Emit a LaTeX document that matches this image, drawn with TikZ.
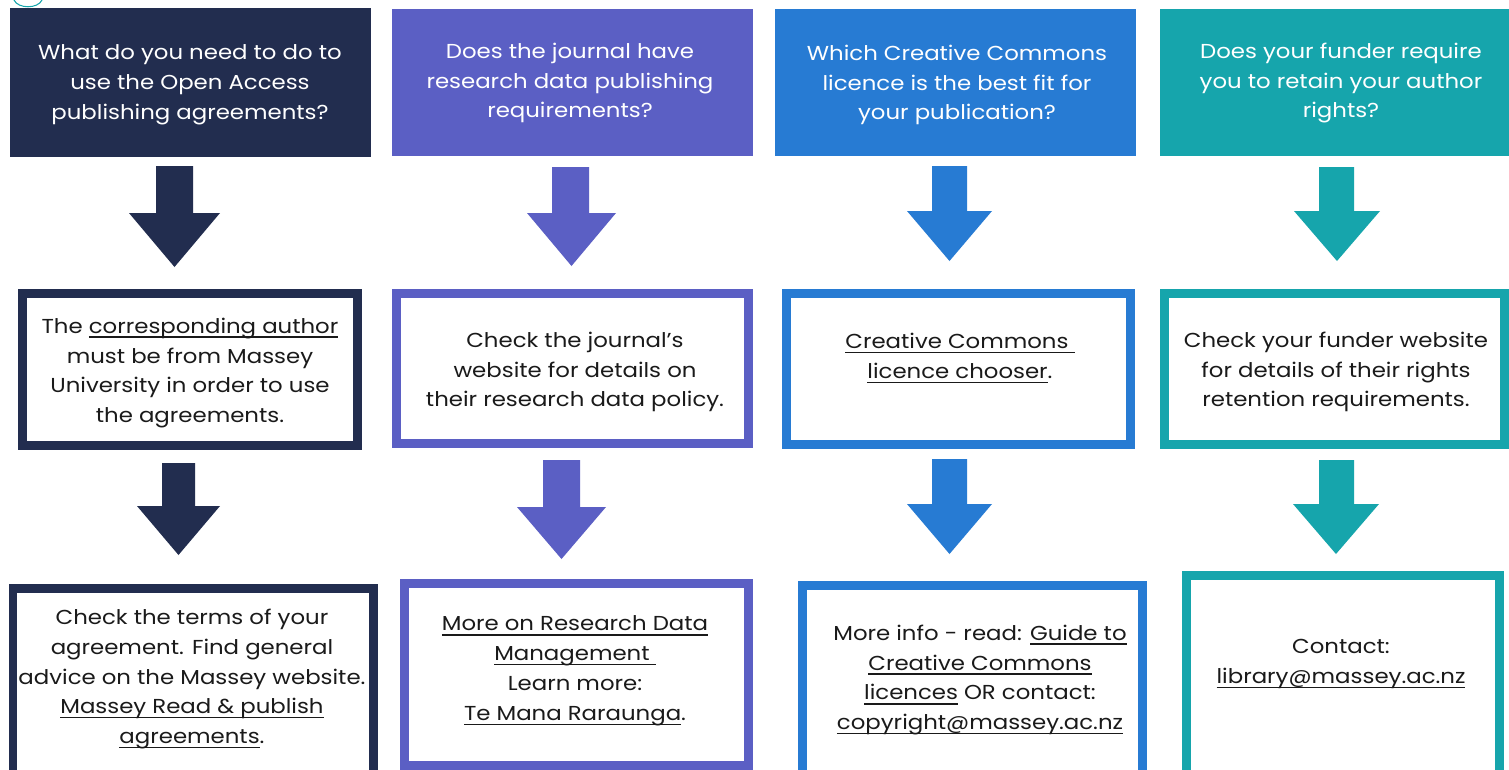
\documentclass[tikz,border=0pt]{standalone}
\usepackage{fontspec}
\setmainfont{Poppins}[FakeStretch=1.13]
\newcommand{\myul}[1]{\setbox0\hbox{#1}\rlap{\rule[-2.6pt]{\wd0}{0.8pt}}\box0\relax}
\usetikzlibrary{fit}
\definecolor{cnavy}{HTML}{222D4F}
\definecolor{cpurple}{HTML}{5B5FC4}
\definecolor{cblue}{HTML}{277BD3}
\definecolor{cteal}{HTML}{16A5AC}
\definecolor{ctext}{HTML}{1A1A1A}
\newcommand{\blockarr}[8]{%
  \fill[#1] (#2,#4) -- (#3,#4) -- (#3,#5) -- (#7,#5) -- ({(#6+#7)/2},#8) -- (#6,#5) -- (#2,#5) -- cycle;}
\begin{document}
\begin{tikzpicture}[x=0.02cm,y=-0.02cm,
  hdr/.style={fill=#1, draw=none, inner sep=0pt},
  obox/.style={draw=#1, line width=0.18cm, fill=white, inner sep=0pt},
  htext/.style={text=white, align=center, font=\fontsize{11.5}{17}\selectfont, inner sep=0pt},
  btext/.style={text=ctext, align=center, font=\fontsize{11.5}{17}\selectfont, inner sep=0pt}]
\useasboundingbox (0,0) rectangle (1509,769);
\fill[white] (0,0) rectangle (1509,769);
% small teal mark at top-left
\draw[cteal, line width=0.6pt] (14,0) .. controls (18,9) and (38,9) .. (42,0);
% headers
\node[hdr=cnavy, fit={(10,8)(371,157)}] (h1) {};
\node[hdr=cpurple, fit={(392,9)(753,156)}] (h2) {};
\node[hdr=cblue, fit={(775,9)(1136,156)}] (h3) {};
\node[hdr=cteal, fit={(1160,9)(1509,156)}] (h4) {};
\node[htext] (th1) at (190,85) {What do you need to do to\\use the Open Access\\publishing agreements?};
\node[htext] (th2) at (570,83) {Does the journal have\\research data publishing\\requirements?};
\node[htext] (th3) at (957,85) {Which Creative Commons\\licence is the best fit for\\your publication?};
\node[htext] (th4) at (1341,83) {Does your funder require\\you to retain your author\\rights?};
% row 2 boxes
\node[obox=cnavy, fit={(22.5,293.5)(357.5,445.5)}] (m1) {};
\node[obox=cpurple, fit={(396.5,293.5)(748.5,443.5)}] (m2) {};
\node[obox=cblue, fit={(786.5,293.5)(1130.5,444.5)}] (m3) {};
\node[obox=cteal, fit={(1164.5,293.5)(1504.5,444.5)}] (m4) {};
\node[btext] (tm1) at (190,373) {The \myul{corresponding author}\\must be from Massey\\University in order to use\\the agreements.};
\node[btext] (tm2) at (575,372) {Check the journal’s\\website for details on\\their research data policy.};
\node[btext] (tm3) at (960,358) {\myul{Creative Commons\ }\\\myul{licence chooser}.};
\node[btext] (tm4) at (1336,372) {Check your funder website\\for details of their rights\\retention requirements.};
% row 3 boxes
\node[obox=cnavy, fit={(13,588)(373,775)}] (b1) {};
\node[obox=cpurple, fit={(404.5,583.5)(748.5,765)}] (b2) {};
\node[obox=cblue, fit={(802.5,585.5)(1142.5,775)}] (b3) {};
\node[obox=cteal, fit={(1186.5,575.5)(1499.5,775)}] (b4) {};
\node[btext] (tb1) at (192,679) {Check the terms of your\\agreement. Find general\\advice on the Massey website.\\\myul{Massey Read \& publish}\\\myul{agreements}.};
\node[btext] (tb2) at (575,671) {\myul{More on Research Data}\\\myul{Management\ }\\Learn more:\\\myul{Te Mana Raraunga}.};
\node[btext] (tb3) at (980,680) {More info - read: \myul{Guide to}\\\myul{Creative Commons}\\\myul{licences} OR contact:\\\myul{copyright@massey.ac.nz}};
\node[btext] (tb4) at (1341,664) {Contact:\\\myul{library@massey.ac.nz}};
% arrows
\blockarr{cnavy}{156}{193}{166}{213}{129}{220}{267}
\blockarr{cnavy}{162}{195}{463}{506}{137}{220}{555}
\blockarr{cpurple}{552}{589}{167}{213}{527}{616}{266}
\blockarr{cpurple}{543}{580}{460}{507}{517}{606}{559}
\blockarr{cblue}{932}{967}{166}{211}{907}{992}{261}
\blockarr{cblue}{932}{967}{459}{504}{907}{992}{554}
\blockarr{cteal}{1319}{1354}{167}{211}{1294}{1380}{261}
\blockarr{cteal}{1319}{1354}{460}{504}{1293}{1379}{554}
\end{tikzpicture}
\end{document}
